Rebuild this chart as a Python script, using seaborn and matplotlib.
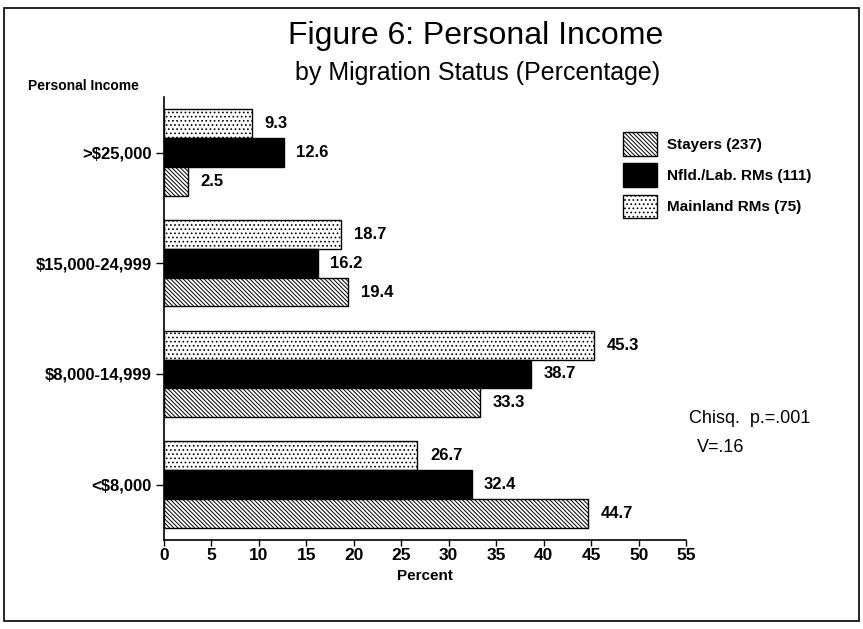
import matplotlib
matplotlib.use("Agg")
import matplotlib.pyplot as plt
import matplotlib.patches as mpatches
import seaborn as sns
import pandas as pd

# --- Data ---
income_groups = [">$25,000", "$15,000-24,999", "$8,000-14,999", "<$8,000"]
stayers = [2.5, 19.4, 33.3, 44.7]
nfld_rms = [12.6, 16.2, 38.7, 32.4]
mainland_rms = [9.3, 18.7, 45.3, 26.7]
series_names = ["Mainland RMs (75)", "Nfld./Lab. RMs (111)", "Stayers (237)"]
x_ticks = [0, 5, 10, 15, 20, 25, 30, 35, 40, 45, 50, 55]

df = pd.DataFrame({
    "income": income_groups * 3,
    "percent": mainland_rms + nfld_rms + stayers,
    "group": [series_names[0]] * 4 + [series_names[1]] * 4 + [series_names[2]] * 4,
})

# --- Style ---
sns.set_style("white")
plt.rcParams["font.family"] = ["Liberation Sans", "DejaVu Sans"]
plt.rcParams["hatch.linewidth"] = 0.7
for key in ["text.color", "axes.labelcolor", "xtick.color", "ytick.color"]:
    plt.rcParams[key] = "black"

face = {series_names[0]: "white", series_names[1]: "black", series_names[2]: "white"}
hatch = {series_names[0]: "....", series_names[1]: None, series_names[2]: "\\\\\\\\\\\\\\\\"}

fig = plt.figure(figsize=(8.63, 6.29), dpi=100)
ax = fig.add_axes([0.190, 0.1415, 0.605, 0.704])

sns.barplot(data=df, x="percent", y="income", hue="group", hue_order=series_names,
            order=income_groups, orient="h", width=0.78, palette=face,
            edgecolor="black", linewidth=1.0, legend=False, ax=ax)

for name, cont in zip(series_names, ax.containers):
    for bar in cont:
        if hatch[name]:
            bar.set_hatch(hatch[name])
    ax.bar_label(cont, fmt="%.1f", padding=9, fontsize=12, fontweight="bold")

ax.set_xlim(0, 55)
ax.set_ylim(3.5, -0.5)
ax.set_xticks(x_ticks)
ax.set_xticklabels([str(t) for t in x_ticks], fontsize=12.5, fontweight="bold")
ax.set_yticks(range(len(income_groups)))
ax.set_yticklabels(income_groups, fontsize=12, fontweight="bold")
ax.tick_params(axis="y", direction="out", length=6, width=1, left=True, pad=3)
ax.tick_params(axis="x", direction="out", length=4, width=1, bottom=True, pad=2)
ax.set_xlabel("Percent", fontsize=11, fontweight="bold", labelpad=4)
ax.set_ylabel("")
sns.despine(ax=ax)
for s in ["left", "bottom"]:
    ax.spines[s].set_linewidth(1.2)
    ax.spines[s].set_color("black")

# titles and notes
fig.text(0.551, 0.942, "Figure 6: Personal Income", fontsize=23, ha="center", va="center")
fig.text(0.553, 0.884, "by Migration Status (Percentage)", fontsize=18, ha="center", va="center")
fig.text(0.033, 0.863, "Personal Income", fontsize=10, fontweight="bold", ha="left", va="center")
fig.text(0.798, 0.335, "Chisq.  p.=.001", fontsize=13, ha="left", va="center")
fig.text(0.807, 0.288, "V=.16", fontsize=13, ha="left", va="center")

# legend, reversed order
handles = []
for name in series_names[::-1]:
    handles.append(mpatches.Patch(facecolor=face[name], edgecolor="black",
                                  hatch=hatch[name], linewidth=1.0, label=name))
fig.legend(handles=handles, loc="upper left", bbox_to_anchor=(0.722, 0.79),
           frameon=False, prop={"size": 11, "weight": "bold"},
           handlelength=2.2, handleheight=2.0, handletextpad=0.7,
           labelspacing=0.5, borderpad=0, borderaxespad=0)

# figure border
fig.patches.append(mpatches.Rectangle((0.005, 0.012), 0.99, 0.975, transform=fig.transFigure,
                                      fill=False, edgecolor="black", linewidth=1.2))

fig.savefig("out.png", dpi=100)
